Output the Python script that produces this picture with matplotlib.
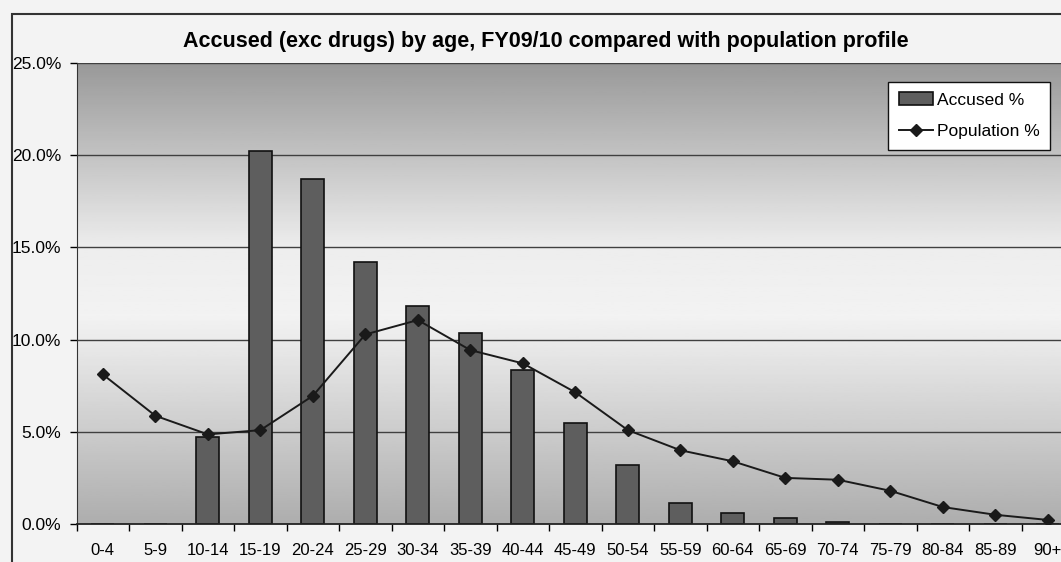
import matplotlib.pyplot as plt
import numpy as np
from matplotlib.patches import Rectangle

# Age bands and the two series (percent)
ages = ['0-4', '5-9', '10-14', '15-19', '20-24', '25-29', '30-34', '35-39', '40-44',
        '45-49', '50-54', '55-59', '60-64', '65-69', '70-74', '75-79', '80-84', '85-89', '90+']
accused = [0, 0, 4.72, 20.24, 18.69, 14.2, 11.83, 10.37, 8.35,
           5.46, 3.2, 1.14, 0.6, 0.33, 0.11, 0, 0, 0, 0]
population = [8.11, 5.87, 4.86, 5.09, 6.95, 10.28, 11.06, 9.43, 8.71,
              7.14, 5.09, 4.0, 3.4, 2.5, 2.4, 1.8, 0.92, 0.5, 0.22]
yticks = [0, 5, 10, 15, 20, 25]

plt.rcParams['font.family'] = ['Liberation Sans', 'DejaVu Sans']

fig = plt.figure(figsize=(10.61, 5.62), dpi=100)
fig.patch.set_facecolor('#f3f3f3')

# chart frame (runs off the right and bottom of the scan)
fig.add_artist(Rectangle((12 / 1061, -0.05), 1.1, 1.05 - 14 / 562, transform=fig.transFigure,
                         facecolor='none', edgecolor='#333333', lw=1.5))

ax = fig.add_axes([76.6 / 1061, 38 / 562, 997.5 / 1061, 461 / 562])
x = np.arange(len(ages))

# grey gradient background: dark at top, light in the middle, darker at bottom
stops = np.array([0.0, 0.45, 0.6, 1.0])
vals = np.array([0.68, 0.95, 0.93, 0.6])
g = np.interp(np.linspace(0, 1, 256), stops, vals)
ax.imshow(g[:, None], extent=[-0.5, len(ages) - 0.5, 0, 25], origin='lower',
          aspect='auto', cmap='gray', vmin=0, vmax=1, zorder=0)

for t in yticks[1:]:
    ax.axhline(t, color='#404040', lw=1.0, zorder=1)

bars = ax.bar(x, accused, width=0.435, color='#5e5e5e', edgecolor='#111111', lw=1.2,
              zorder=2, label='Accused %')
line, = ax.plot(x, population, color='#1a1a1a', lw=1.4, marker='D', markersize=6,
                zorder=3, label='Population %')

ax.set_xlim(-0.5, len(ages) - 0.5)
ax.set_ylim(0, 25)
ax.set_yticks(yticks)
ax.set_yticklabels(['%.1f%%' % t for t in yticks], fontsize=12.5)
ax.set_xticks(x)
ax.set_xticklabels(ages, fontsize=12)
ax.set_xticks(np.arange(-0.5, len(ages), 1), minor=True)
ax.tick_params(axis='x', which='major', length=0, pad=14)
ax.tick_params(axis='x', which='minor', length=5, direction='out', width=1)
ax.tick_params(axis='y', length=5, width=1, pad=6)
for s in ['top', 'right']:
    ax.spines[s].set_visible(False)
ax.spines['left'].set_color('#333333')
ax.spines['bottom'].set_color('#222222')
ax.spines['bottom'].set_linewidth(1.3)

fig.text(546 / 1061, 1 - 42 / 562, 'Accused (exc drugs) by age, FY09/10 compared with population profile',
         ha='center', va='center', fontsize=15.5, fontweight='bold')

leg = ax.legend([bars, line], ['Accused %', 'Population %'], loc='upper right',
                bbox_to_anchor=((1050 - 76.6) / 997.5, 1 - 19 / 461),
                fontsize=12.5, frameon=True, fancybox=False, handlelength=2.0,
                borderpad=0.6, labelspacing=0.95, handletextpad=0.2, borderaxespad=0)
leg.get_frame().set_edgecolor('#111111')
leg.get_frame().set_linewidth(1.0)
leg.get_frame().set_facecolor('white')
leg.get_frame().set_alpha(1)

fig.savefig('out.png', dpi=100, facecolor=fig.get_facecolor())
